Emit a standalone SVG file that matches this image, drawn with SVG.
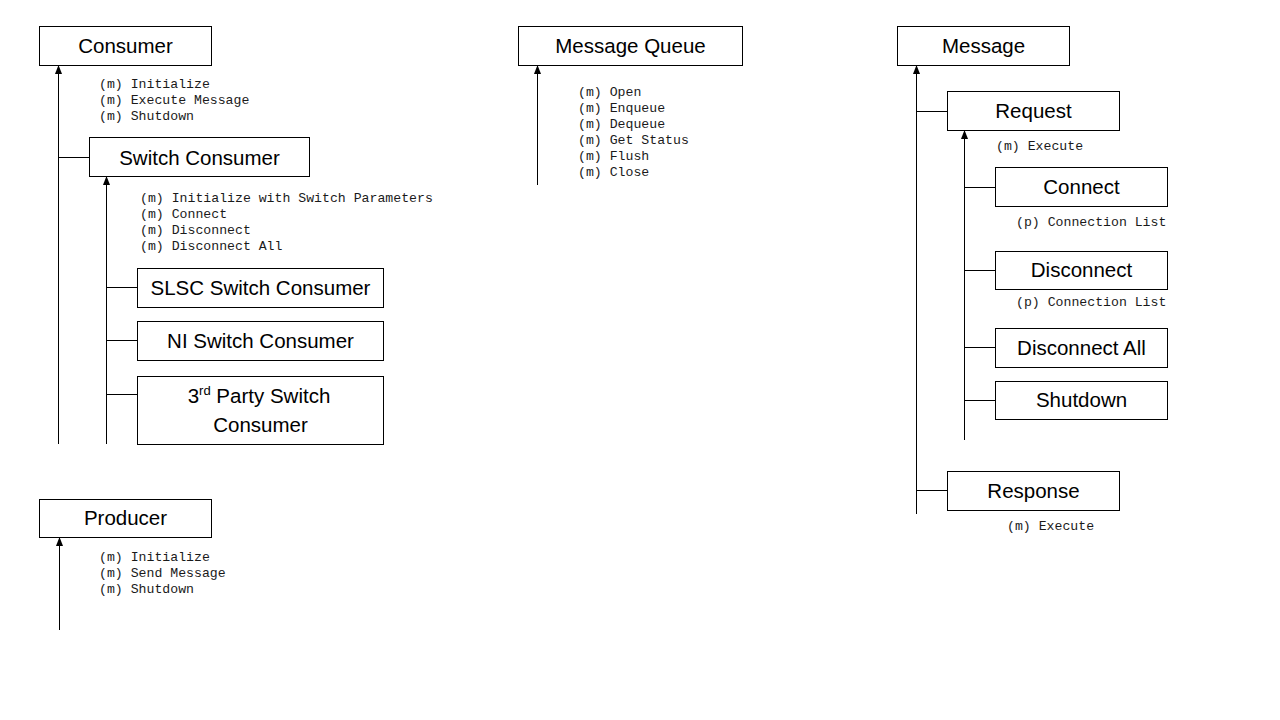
<svg xmlns="http://www.w3.org/2000/svg" width="1280" height="720" viewBox="0 0 1280 720">
<style>
.box{fill:#fff;stroke:#000;stroke-width:1}
.lbl{font-family:"Liberation Sans",Arial,sans-serif;font-size:20.5px;fill:#000;text-anchor:middle}
.mono{font-family:"Liberation Mono","Courier New",monospace;font-size:13.2px;fill:#1a1a1a}
.ln{stroke:#000;stroke-width:1;fill:none}
.arr{stroke:#000;stroke-width:1;fill:none;marker-end:url(#ah)}
</style>
<defs>
<marker id="ah" markerUnits="userSpaceOnUse" markerWidth="9" markerHeight="7" refX="8" refY="3.5" orient="auto">
<path d="M0,0 L9,3.5 L0,7 z" fill="#000"/>
</marker>
</defs>
<rect width="1280" height="720" fill="#fff"/>

<g id="connectors">
<line class="arr" x1="58.5" y1="444" x2="58.5" y2="66"/>
<line class="ln" x1="58.5" y1="157.5" x2="89" y2="157.5"/>
<line class="arr" x1="106.5" y1="444" x2="106.5" y2="177"/>
<line class="ln" x1="106.5" y1="287.5" x2="137" y2="287.5"/>
<line class="ln" x1="106.5" y1="340.5" x2="137" y2="340.5"/>
<line class="ln" x1="106.5" y1="394.5" x2="137" y2="394.5"/>
<line class="arr" x1="59.5" y1="630" x2="59.5" y2="538"/>
<line class="arr" x1="537.5" y1="185" x2="537.5" y2="66"/>
<line class="arr" x1="916.5" y1="514" x2="916.5" y2="66"/>
<line class="ln" x1="916.5" y1="111.5" x2="947" y2="111.5"/>
<line class="ln" x1="916.5" y1="490.5" x2="947" y2="490.5"/>
<line class="arr" x1="964.5" y1="440" x2="964.5" y2="131"/>
<line class="ln" x1="964.5" y1="187.5" x2="995" y2="187.5"/>
<line class="ln" x1="964.5" y1="270.5" x2="995" y2="270.5"/>
<line class="ln" x1="964.5" y1="347.5" x2="995" y2="347.5"/>
<line class="ln" x1="964.5" y1="400.5" x2="995" y2="400.5"/>
</g>

<g id="consumer">
<rect class="box" x="39.5" y="26.5" width="172" height="39"/>
<text class="lbl" x="125.5" y="53">Consumer</text>
<text class="mono" x="99" y="88">(m) Initialize</text>
<text class="mono" x="99" y="104">(m) Execute Message</text>
<text class="mono" x="99" y="120">(m) Shutdown</text>
</g>

<g id="switch-consumer">
<rect class="box" x="89.5" y="137.5" width="220" height="39"/>
<text class="lbl" x="199.5" y="165">Switch Consumer</text>
<text class="mono" x="140" y="202">(m) Initialize with Switch Parameters</text>
<text class="mono" x="140" y="218">(m) Connect</text>
<text class="mono" x="140" y="234">(m) Disconnect</text>
<text class="mono" x="140" y="250">(m) Disconnect All</text>
</g>

<g id="slsc-switch-consumer">
<rect class="box" x="137.5" y="268.5" width="246" height="39"/>
<text class="lbl" x="260.5" y="295">SLSC Switch Consumer</text>
</g>

<g id="ni-switch-consumer">
<rect class="box" x="137.5" y="321.5" width="246" height="39"/>
<text class="lbl" x="260.5" y="348">NI Switch Consumer</text>
</g>

<g id="third-party-switch-consumer">
<rect class="box" x="137.5" y="376.5" width="246" height="68"/>
<text class="lbl" x="259" y="403">3<tspan font-size="13" dy="-8">rd</tspan><tspan dy="8"> Party Switch</tspan></text>
<text class="lbl" x="260.5" y="432">Consumer</text>
</g>

<g id="producer">
<rect class="box" x="39.5" y="499.5" width="172" height="38"/>
<text class="lbl" x="125.5" y="525">Producer</text>
<text class="mono" x="99" y="561">(m) Initialize</text>
<text class="mono" x="99" y="577">(m) Send Message</text>
<text class="mono" x="99" y="593">(m) Shutdown</text>
</g>

<g id="message-queue">
<rect class="box" x="518.5" y="26.5" width="224" height="39"/>
<text class="lbl" x="630.5" y="53">Message Queue</text>
<text class="mono" x="578" y="96">(m) Open</text>
<text class="mono" x="578" y="112">(m) Enqueue</text>
<text class="mono" x="578" y="128">(m) Dequeue</text>
<text class="mono" x="578" y="144">(m) Get Status</text>
<text class="mono" x="578" y="160">(m) Flush</text>
<text class="mono" x="578" y="176">(m) Close</text>
</g>

<g id="message">
<rect class="box" x="897.5" y="26.5" width="172" height="39"/>
<text class="lbl" x="983.5" y="53">Message</text>
</g>

<g id="request">
<rect class="box" x="947.5" y="91.5" width="172" height="39"/>
<text class="lbl" x="1033.5" y="118">Request</text>
<text class="mono" x="996" y="150">(m) Execute</text>
</g>

<g id="connect">
<rect class="box" x="995.5" y="167.5" width="172" height="39"/>
<text class="lbl" x="1081.5" y="194">Connect</text>
<text class="mono" x="1016" y="226">(p) Connection List</text>
</g>

<g id="disconnect">
<rect class="box" x="995.5" y="251.5" width="172" height="38"/>
<text class="lbl" x="1081.5" y="277">Disconnect</text>
<text class="mono" x="1016" y="306">(p) Connection List</text>
</g>

<g id="disconnect-all">
<rect class="box" x="995.5" y="328.5" width="172" height="39"/>
<text class="lbl" x="1081.5" y="355">Disconnect All</text>
</g>

<g id="shutdown">
<rect class="box" x="995.5" y="381.5" width="172" height="38"/>
<text class="lbl" x="1081.5" y="407">Shutdown</text>
</g>

<g id="response">
<rect class="box" x="947.5" y="471.5" width="172" height="39"/>
<text class="lbl" x="1033.5" y="498">Response</text>
<text class="mono" x="1007" y="530">(m) Execute</text>
</g>
</svg>
